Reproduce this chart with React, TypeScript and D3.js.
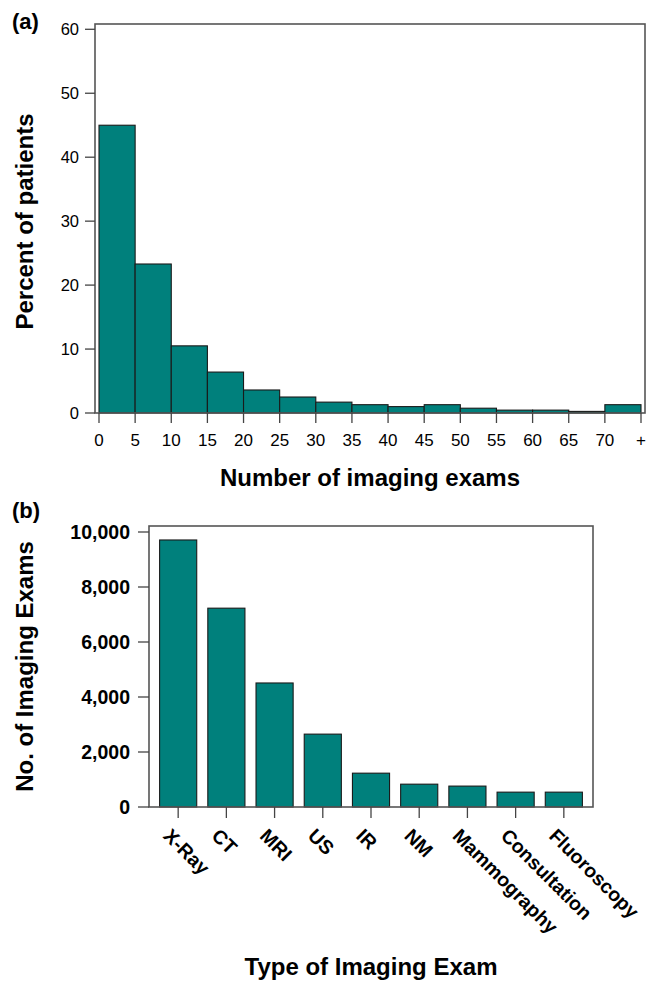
import React from 'react'
import * as d3 from 'd3'

const W = 648, H = 986
const FONT = '"Liberation Sans", Arial, Helvetica, sans-serif'
const TEAL = '#00807c'

// panel (a): histogram of exams per patient
const binStarts = [0, 5, 10, 15, 20, 25, 30, 35, 40, 45, 50, 55, 60, 65, 70]
const binWidth = 5
const percentPatients = [45, 23.3, 10.5, 6.4, 3.6, 2.5, 1.7, 1.3, 1.0, 1.3, 0.75, 0.45, 0.45, 0.25, 1.3]
const histTicks = [0, 5, 10, 15, 20, 25, 30, 35, 40, 45, 50, 55, 60, 65, 70, 75]
const histTickLabels = ['0', '5', '10', '15', '20', '25', '30', '35', '40', '45', '50', '55', '60', '65', '70', '+']
const percentTicks = [0, 10, 20, 30, 40, 50, 60]

// panel (b): exams by modality
const examTypes = ['X-Ray', 'CT', 'MRI', 'US', 'IR', 'NM', 'Mammography', 'Consultation', 'Fluoroscopy']
const examCounts = [9710, 7230, 4510, 2650, 1230, 830, 760, 540, 540]
const countTicks = [0, 2000, 4000, 6000, 8000, 10000]

const A = { left: 95, right: 645, top: 24, bottom: 413 }
const B = { left: 149, right: 593, top: 526, bottom: 807 }

export default function App() {
  const xA = d3.scaleLinear([0, 75], [99, 641])
  const yA = d3.scaleLinear([0, 60], [A.bottom, 29.3])

  const xB = d3.scaleBand(examTypes, [B.left, B.right]).paddingInner(0.23).paddingOuter(0.22)
  const yB = d3.scaleLinear([0, 10000], [B.bottom, 532])
  const fmt = d3.format(',')

  return (
    <svg width={W} height={H} viewBox={`0 0 ${W} ${H}`}
      style={{ position: 'absolute', left: 0, top: 0, background: '#fff' }}
      fontFamily={FONT}>
      {/* ---------- (a) ---------- */}
      <text x={12} y={29} fontSize={22} fontWeight="bold">(a)</text>

      {binStarts.map((s, i) => (
        <rect key={s} x={xA(s)} y={yA(percentPatients[i])}
          width={xA(s + binWidth) - xA(s)} height={yA(0) - yA(percentPatients[i])}
          fill={TEAL} stroke="#1a1a1a" strokeWidth={1.1} />
      ))}

      <rect x={A.left} y={A.top} width={A.right - A.left} height={A.bottom - A.top}
        fill="none" stroke="#555" strokeWidth={1.6} />

      {percentTicks.map(t => (
        <g key={t} transform={`translate(0,${yA(t)})`}>
          <line x1={85} x2={A.left} stroke="#444" strokeWidth={1.3} />
          <text x={79} dy="0.36em" textAnchor="end" fontSize={16.5}>{t}</text>
        </g>
      ))}
      {histTicks.map((t, i) => (
        <g key={t} transform={`translate(${xA(t)},0)`}>
          <line y1={A.bottom} y2={423} stroke="#444" strokeWidth={1.3} />
          <text y={446} textAnchor="middle" fontSize={17}>{histTickLabels[i]}</text>
        </g>
      ))}

      <text x={(A.left + A.right) / 2} y={486} textAnchor="middle" fontSize={24} fontWeight="bold">
        Number of imaging exams
      </text>
      <text transform={`translate(33,${(A.top + A.bottom) / 2 + 3}) rotate(-90)`} textAnchor="middle"
        fontSize={24} fontWeight="bold">Percent of patients</text>

      {/* ---------- (b) ---------- */}
      <text x={12} y={518} fontSize={22} fontWeight="bold">(b)</text>

      {examTypes.map((c, i) => (
        <rect key={c} x={xB(c)} y={yB(examCounts[i])} width={xB.bandwidth()}
          height={yB(0) - yB(examCounts[i])} fill={TEAL} stroke="#1a1a1a" strokeWidth={1.1} />
      ))}

      <rect x={B.left} y={B.top} width={B.right - B.left} height={B.bottom - B.top}
        fill="none" stroke="#555" strokeWidth={1.6} />

      {countTicks.map(t => (
        <g key={t} transform={`translate(0,${yB(t)})`}>
          <line x1={138} x2={B.left} stroke="#444" strokeWidth={1.3} />
          <text x={130} dy="0.36em" textAnchor="end" fontSize={19.5} fontWeight="bold">{fmt(t)}</text>
        </g>
      ))}
      {examTypes.map(c => {
        const cx = (xB(c) as number) + xB.bandwidth() / 2
        return (
          <g key={c}>
            <line x1={cx} x2={cx} y1={B.bottom} y2={818} stroke="#444" strokeWidth={1.3} />
            <text transform={`translate(${cx - 6},827) rotate(45)`} dy="0.72em" fontSize={19.5}
              fontWeight="bold">{c}</text>
          </g>
        )
      })}

      <text x={(B.left + B.right) / 2} y={975} textAnchor="middle" fontSize={24} fontWeight="bold">
        Type of Imaging Exam
      </text>
      <text transform={`translate(33,${(B.top + B.bottom) / 2}) rotate(-90)`} textAnchor="middle"
        fontSize={24} fontWeight="bold">No. of Imaging Exams</text>
    </svg>
  )
}
